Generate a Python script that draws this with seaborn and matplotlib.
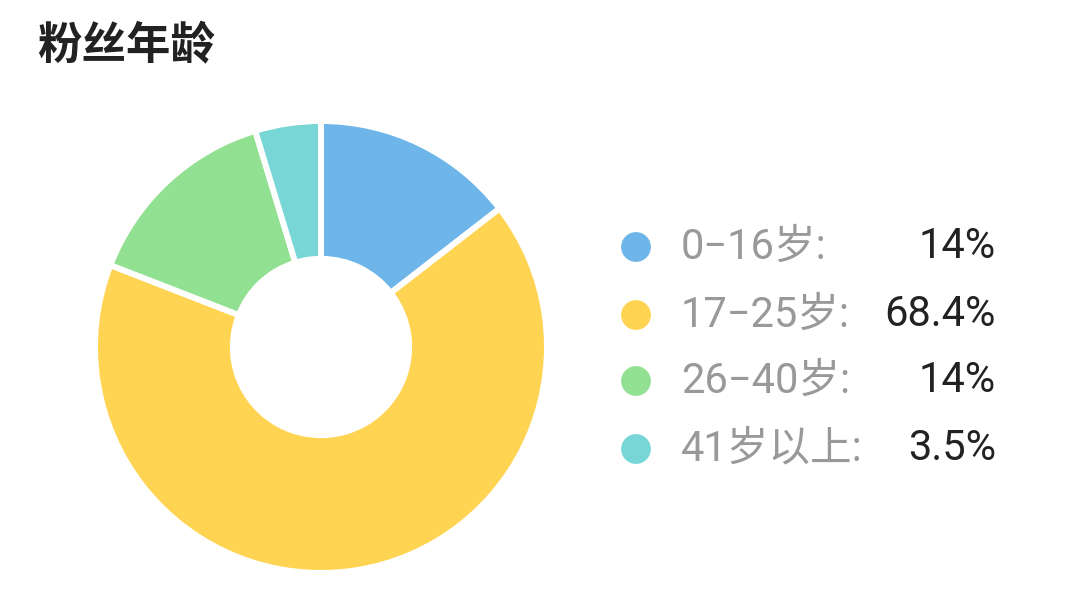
import matplotlib
matplotlib.use("Agg")
import matplotlib.pyplot as plt
import seaborn as sns

# data
labels = ["0−16岁", "17−25岁", "26−40岁", "41岁以上"]
# slice sizes as drawn in the donut (measured from the arcs)
slice_share = [14.5, 66.4, 14.4, 4.7]
# percentages as printed in the legend
value_text = ["14%", "68.4%", "14%", "3.5%"]
colors = ["#6EB6EA", "#FFD452", "#92E192", "#78D7D6"]

sns.set_theme(style="white")
plt.rcParams["font.family"] = ["Roboto", "Noto Sans CJK SC", "DejaVu Sans"]

fig = plt.figure(figsize=(10.8, 5.96), dpi=100)
fig.patch.set_facecolor("white")

# donut
ax = fig.add_axes([95 / 1080, 23 / 596, 452 / 1080, 452 / 596])
ax.pie(slice_share, colors=colors, startangle=90, counterclock=False, radius=1.0,
       wedgeprops=dict(width=0.61, edgecolor="white", linewidth=4.3))
ax.set_xlim(-1, 1)
ax.set_ylim(-1, 1)
ax.set_aspect("equal")
ax.axis("off")

# overlay in pixel coords for title + legend
lx = fig.add_axes([0, 0, 1, 1], facecolor="none")
lx.set_xlim(0, 1080)
lx.set_ylim(596, 0)
lx.axis("off")

lx.text(37, 46, "粉丝年龄", fontsize=32, fontweight="bold", color="#222222",
        va="center", ha="left", family=["Noto Sans CJK SC", "DejaVu Sans"])

row_y = [247, 315, 381, 449]
sns.scatterplot(x=[636] * len(row_y), y=row_y, hue=labels, palette=colors,
                s=460, linewidth=0, legend=False, ax=lx)
for lab, val, y in zip(labels, value_text, row_y):
    lx.text(681, y, lab + ":", fontsize=30, color="#999999",
            va="center", ha="left")
    lx.text(996, y, val, fontsize=30, color="#222222",
            va="center", ha="right")

fig.savefig("out.png", dpi=100, facecolor="white")
